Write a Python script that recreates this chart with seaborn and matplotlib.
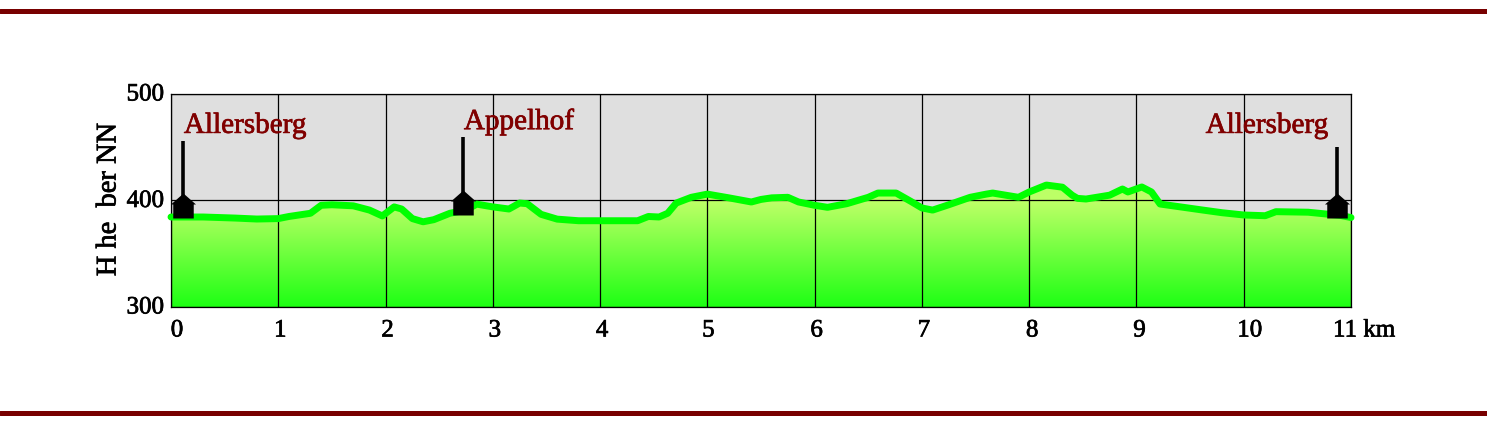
import numpy as np
import pandas as pd
import seaborn as sns
from matplotlib import pyplot as plt
from matplotlib.colors import LinearSegmentedColormap
from matplotlib.lines import Line2D
from matplotlib.path import Path
from matplotlib.patheffects import withStroke
from matplotlib.transforms import ScaledTranslation

# profil trasy
km = [0, 0.3, 0.6, 0.8, 1.0, 1.1, 1.3, 1.4, 1.5, 1.7, 1.85, 1.97, 2.08, 2.15, 2.25, 2.35, 2.45, 2.6, 2.75,
      2.85, 3.0, 3.15, 3.25, 3.32, 3.45, 3.6, 3.8, 4.0, 4.35, 4.45, 4.55, 4.63, 4.71, 4.85, 5.0, 5.2, 5.41,
      5.5, 5.6, 5.75, 5.85, 6.0, 6.12, 6.3, 6.5, 6.59, 6.76, 6.9, 7.0, 7.1, 7.25, 7.45, 7.6, 7.66, 7.78,
      7.9, 8.0, 8.16, 8.31, 8.4, 8.45, 8.53, 8.75, 8.87, 8.92, 9.05, 9.14, 9.22, 9.62, 9.8, 10.0, 10.2,
      10.3, 10.6, 10.9, 11.0]
hoehe = [384.5, 384.5, 383.5, 382.6, 383, 385, 388, 395.5, 396, 395, 391, 385.5, 394, 392, 383, 380, 382, 388, 391,
         396.6, 394, 392, 397.6, 397, 387, 382.5, 381, 381, 381, 385, 384.5, 388, 397.6, 403, 406, 402.5, 398.6,
         401, 402.5, 403, 398.6, 395.5, 393.6, 397, 403, 407, 407, 399, 393, 391, 396, 403, 406, 407, 405,
         403, 408, 414.5, 412.5, 405, 402, 401.4, 405, 410.8, 408, 412.7, 408, 396.7, 391, 388.5, 386.4, 385.7,
         389.5, 389, 386, 384]

# miejsca na trasie
orte = ['Allersberg', 'Appelhof', 'Allersberg']
ort_km = [0.11, 2.72, 10.87]
ort_hoehe = [383.6, 386.4, 383.6]
mast_top = [456, 460, 450]
text_km = [0.12, 2.73, 9.645]
text_hoehe = [463.5, 467, 463.5]

x_ticks = list(range(12))
x_labels = ['0', '1', '2', '3', '4', '5', '6', '7', '8', '9', '10', '11 km']
x_shift = [6, 2, 2, 2, 2, 1, 2, 2, 3, 3, 6, -18]  # przesuniecie etykiet w px
y_ticks = [300, 400, 500]
y_label = 'H he  ber NN'

df = pd.DataFrame({'km': km, 'hoehe': hoehe})

sns.set_style('white')
plt.rcParams['font.family'] = ['Liberation Serif', 'DejaVu Serif']

fig = plt.figure(figsize=(14.87, 4.29), dpi=100)
ax = fig.add_axes([171 / 1487, 1 - 307 / 429, 1180 / 1487, 213 / 429])
ax.set_facecolor('#dfdfdf')

# gradient pod linia
cmap = LinearSegmentedColormap.from_list('gruen', ['#1eff14', '#bcff66'])
img = ax.imshow(np.linspace(0, 1, 128).reshape(-1, 1), origin='lower', extent=[0, 11, 300, 398],
                cmap=cmap, aspect='auto', zorder=1)
area = ax.fill_between(df.km, df.hoehe, 300, color='#bcff66', zorder=0.9, lw=0)
img.set_clip_path(area.get_paths()[0], transform=ax.transData)

ax.set_xlim(0, 11)
ax.set_ylim(300, 500)
ax.set_xticks(x_ticks, x_labels)
ax.set_yticks(y_ticks)
ax.grid(True, color='black', lw=0.9, zorder=2)
ax.set_axisbelow(False)
for g in ax.get_xgridlines() + ax.get_ygridlines():
    g.set_zorder(2)

sns.lineplot(data=df, x='km', y='hoehe', color='#00ff00', lw=5, ax=ax, zorder=3, clip_on=False,
             solid_joinstyle='round', errorbar=None, sort=False)

ax.set_xlabel('')
ax.set_ylabel(y_label, fontsize=20.5, color='black', va='center')
ax.yaxis.set_label_coords((109 - 171) / 1180, 0.505)
ax.yaxis.label.set_path_effects([withStroke(linewidth=0.5, foreground='black')])

# domki z masztem
haus = Path([(-0.41, 0), (-0.41, 0.56), (-0.5, 0.56), (0, 1), (0.5, 0.56), (0.41, 0.56), (0.41, 0), (-0.41, 0)],
            closed=True)
ax.vlines(ort_km, ort_hoehe, mast_top, color='black', lw=2.6, zorder=4)
ax.plot(ort_km, ort_hoehe, ls='none', marker=haus, ms=36, color='black', mew=0, zorder=5, clip_on=False)
for name, x, y in zip(orte, text_km, text_hoehe):
    ax.text(x, y, name, color='#800000', fontsize=21, ha='left', va='baseline', zorder=6,
            path_effects=[withStroke(linewidth=0.5, foreground='#800000')])

ax.tick_params(axis='both', length=0, labelsize=18, labelcolor='black')
ax.tick_params(axis='x', pad=9)
ax.tick_params(axis='y', pad=5)
for lab, dx in zip(ax.get_xticklabels(), x_shift):
    lab.set_transform(lab.get_transform() + ScaledTranslation(dx / 100, 0, fig.dpi_scale_trans))
    lab.set_path_effects([withStroke(linewidth=0.5, foreground='black')])
ax.get_xticklabels()[-1].set_ha('left')
for lab in ax.get_yticklabels():
    lab.set_transform(lab.get_transform() + ScaledTranslation(0, 2 / 100, fig.dpi_scale_trans))
    lab.set_path_effects([withStroke(linewidth=0.5, foreground='black')])

for s in ax.spines.values():
    s.set_visible(True)
    s.set_color('black')
    s.set_linewidth(0.9)
    s.set_zorder(2.5)

# czerwone paski
for py in [10.8, 412.8]:
    fig.add_artist(Line2D([0, 1], [1 - py / 429, 1 - py / 429], color='#780000', lw=3.6,
                          transform=fig.transFigure))

fig.savefig('out.png', dpi=100)
